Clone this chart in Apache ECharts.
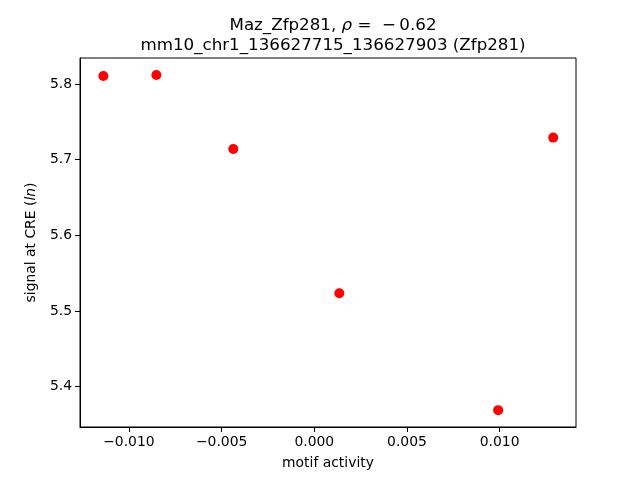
<!DOCTYPE html>
<html>
<head>
<meta charset="utf-8">
<script src="https://cdn.jsdelivr.net/npm/echarts@6/dist/echarts.min.js"></script>
<style>
  html, body { margin: 0; padding: 0; background: #fff; }
  #chart { width: 640px; height: 480px; }
</style>
</head>
<body>
<div id="chart"></div>
<script>
// motif activity vs signal at CRE
const motifActivity = [-0.01138, -0.00852, -0.00437, 0.00135, 0.00992, 0.01289];
const creSignal = [5.8106, 5.8119, 5.7142, 5.5233, 5.3688, 5.7292];
const xTicks = [-0.01, -0.005, 0, 0.005, 0.01];
const yTicks = [5.4, 5.5, 5.6, 5.7, 5.8];

const font = 'DejaVu Sans';
const fmtNum = (v, d) => v.toFixed(d).replace('-', '\u2212');

const chart = echarts.init(document.getElementById('chart'));

chart.setOption({
  animation: false,
  title: {
    text: '{a|Maz_Zfp281, }{i|ρ}{a| =  \u2212\u20090.62}\n{a|mm10_chr1_136627715_136627903 (Zfp281)}',
    left: 328,
    textAlign: 'center',
    top: 11,
    textStyle: {
      fontWeight: 'normal',
      rich: {
        a: { fontFamily: font, fontSize: 16.7, fontWeight: 'normal', color: '#000', lineHeight: 20 },
        i: { fontFamily: font, fontSize: 16.7, fontWeight: 'normal', color: '#000', fontStyle: 'italic', lineHeight: 20 }
      }
    }
  },
  grid: {
    left: 80,
    right: 64,
    top: 58,
    bottom: 53,
    show: true,
    borderColor: '#000',
    borderWidth: 1
  },
  xAxis: {
    type: 'value',
    min: -0.01264,
    max: 0.01412,
    name: 'motif activity',
    nameLocation: 'middle',
    nameGap: 29,
    nameTextStyle: { fontFamily: font, fontSize: 13.9, color: '#000' },
    splitLine: { show: false },
    axisLine: { show: true, onZero: false, lineStyle: { color: '#000', width: 1 } },
    axisTick: { show: true, customValues: xTicks, length: 5, lineStyle: { color: '#000' } },
    axisLabel: {
      customValues: xTicks,
      formatter: v => fmtNum(v, 3),
      fontFamily: font, fontSize: 13.9, color: '#000', margin: 8
    }
  },
  yAxis: {
    type: 'value',
    min: 5.3465,
    max: 5.8345,
    name: '{a|signal at CRE (}{i|ln}{a|)}',
    nameLocation: 'middle',
    nameGap: 42,
    nameTextStyle: {
      rich: {
        a: { fontFamily: font, fontSize: 13.9, color: '#000' },
        i: { fontFamily: font, fontSize: 13.9, color: '#000', fontStyle: 'italic' }
      }
    },
    splitLine: { show: false },
    axisLine: { show: true, onZero: false, lineStyle: { color: '#000', width: 1 } },
    axisTick: { show: true, customValues: yTicks, length: 5, lineStyle: { color: '#000' } },
    axisLabel: {
      customValues: yTicks,
      formatter: v => fmtNum(v, 1),
      fontFamily: font, fontSize: 13.9, color: '#000', margin: 8
    }
  },
  series: [{
    type: 'scatter',
    data: motifActivity.map((x, i) => [x, creSignal[i]]),
    symbolSize: 10,
    itemStyle: { color: '#ff0000', opacity: 1 }
  }]
});
</script>
</body>
</html>
